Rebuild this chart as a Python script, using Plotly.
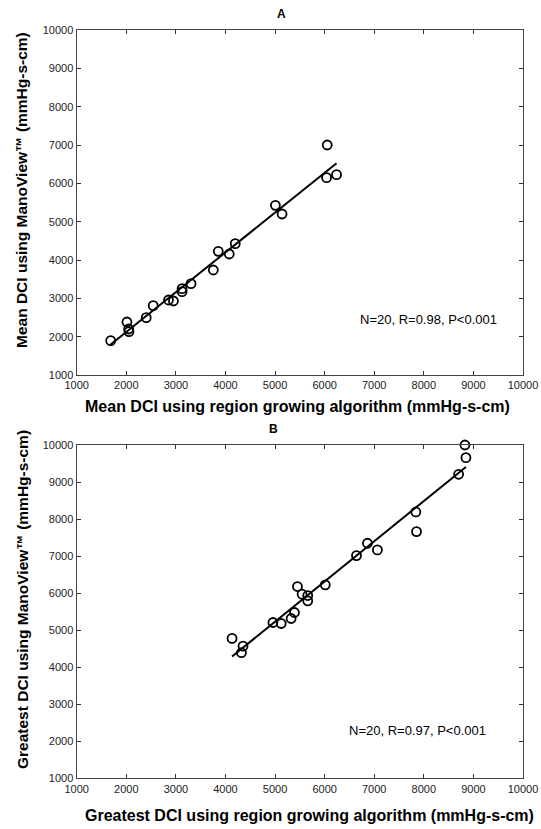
import numpy as np
import plotly.graph_objects as go

# Panel A: mean DCI
mean_region = [1685, 2013, 2047, 2054, 2402, 2543, 2851, 2951, 3125, 3125,
               3306, 3755, 3855, 4076, 4197, 5007, 5141, 6052, 6039, 6240]
mean_manoview = [1896, 2383, 2200, 2130, 2496, 2809, 2957, 2930, 3252, 3174,
                 3383, 3739, 4226, 4157, 4426, 5426, 5200, 7000, 6148, 6226]

# Panel B: greatest DCI
great_region = [8829, 8849, 8702, 7839, 7853, 6863, 7064, 6642, 6013, 5452,
                5545, 5659, 5659, 5391, 5324, 4957, 5124, 4133, 4354, 4322]
great_manoview = [10000, 9658, 9209, 8192, 7662, 7347, 7167, 7014, 6223, 6178,
                  5971, 5935, 5791, 5477, 5315, 5207, 5180, 4777, 4569, 4391]

tick_vals = [1000, 2000, 3000, 4000, 5000, 6000, 7000, 8000, 9000, 10000]
tick_text = ["1000", "2000", "3000", "4000", "5000", "6000", "7000", "8000", "9000", "10000"]
stats_a = "N=20, R=0.98, P<0.001"
stats_b = "N=20, R=0.97, P<0.001"

W, H = 541, 829
fig = go.Figure()

def add_panel(xs, ys, xa, ya):
    xs = np.array(xs, float); ys = np.array(ys, float)
    m, b = np.polyfit(xs, ys, 1)
    lx = np.array([xs.min(), xs.max()])
    fig.add_trace(go.Scatter(x=lx, y=m * lx + b, mode="lines",
                             line=dict(color="black", width=2),
                             xaxis=xa, yaxis=ya, showlegend=False, hoverinfo="skip",
                             cliponaxis=False))
    fig.add_trace(go.Scatter(x=xs, y=ys, mode="markers",
                             marker=dict(symbol="circle-open", size=9, color="black",
                                         line=dict(width=1.8, color="black")),
                             xaxis=xa, yaxis=ya, showlegend=False, cliponaxis=False))

add_panel(mean_region, mean_manoview, "x", "y")
add_panel(great_region, great_manoview, "x2", "y2")

xdom = [76.7 / W, 523 / W]
ydomA = [1 - 375 / H, 1 - 30 / H]
ydomB = [1 - 778.3 / H, 1 - 445 / H]

axis_common = dict(range=[1000, 10000], tickvals=tick_vals, ticktext=tick_text,
                   ticks="inside", ticklen=4, automargin=False,
                   tickwidth=1, tickcolor="#333", showline=True, linecolor="#444",
                   linewidth=1.3, mirror="ticks", showgrid=False, zeroline=False,
                   tickfont=dict(family="Liberation Sans, Arial", size=11, color="#222"))

fig.update_layout(
    width=W, height=H, margin=dict(l=0, r=0, t=0, b=0, autoexpand=False),
    paper_bgcolor="white", plot_bgcolor="white",
    xaxis=dict(domain=xdom, anchor="y", **axis_common),
    yaxis=dict(domain=ydomA, anchor="x", **axis_common),
    xaxis2=dict(domain=xdom, anchor="y2", **axis_common),
    yaxis2=dict(domain=ydomB, anchor="x2", **axis_common),
)

fam = "Liberation Sans, Arial"
xbold = dict(family=fam, size=16, color="black")
ybold = dict(family=fam, size=15.5, color="black")
stat_font = dict(family=fam, size=13, color="black")
ann = [
    dict(text="<b>A</b>", x=281 / W, y=1 - 14 / H, font=dict(family=fam, size=12, color="black")),
    dict(text="<b>B</b>", x=273 / W, y=1 - 429 / H, font=dict(family=fam, size=12, color="black")),
    dict(text="<b>Mean DCI using ManoView™ (mmHg-s-cm)</b>", x=22 / W, y=1 - 190 / H, textangle=-90, font=ybold),
    dict(text="<b>Greatest DCI using ManoView™ (mmHg-s-cm)</b>", x=22 / W, y=1 - 600 / H, textangle=-90, font=ybold),
    dict(text="<b>Mean DCI using region growing algorithm (mmHg-s-cm)</b>", x=297 / W, y=1 - 406 / H, font=xbold),
    dict(text="<b>Greatest DCI using region growing algorithm (mmHg-s-cm)</b>", x=309 / W, y=1 - 815 / H, font=xbold),
    dict(text=stats_a, x=428 / W, y=1 - 319 / H, font=stat_font),
    dict(text=stats_b, x=417 / W, y=1 - 730 / H, font=stat_font),
]
for a in ann:
    a.update(xref="paper", yref="paper", showarrow=False, xanchor="center", yanchor="middle")
fig.update_layout(annotations=ann)

fig.write_html("out.html")
